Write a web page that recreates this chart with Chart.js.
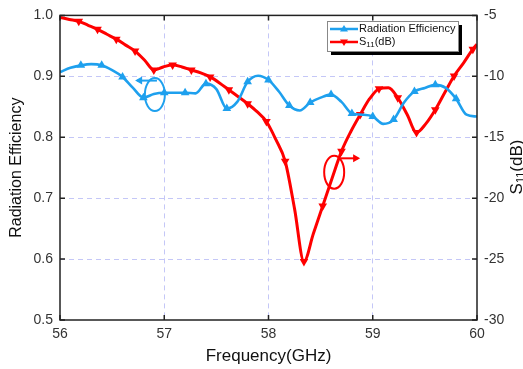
<!DOCTYPE html>
<html>
<head>
<meta charset="utf-8">
<script src="https://cdn.jsdelivr.net/npm/chart.js@4"></script>
<style>
html, body { margin: 0; padding: 0; background: #fff; }
#wrap { width: 523px; height: 369px; }
</style>
</head>
<body>
<div id="wrap"><canvas id="myChart" width="523" height="369"></canvas></div>
<script>
// radiation efficiency, read every 0.1 GHz
var effFreq = [56.0, 56.1, 56.2, 56.3, 56.4, 56.5, 56.6, 56.7, 56.8, 56.9,
  57.0, 57.1, 57.2, 57.3, 57.4, 57.5, 57.6, 57.7, 57.8, 57.9,
  58.0, 58.1, 58.2, 58.3, 58.4, 58.5, 58.6, 58.7, 58.8, 58.9,
  59.0, 59.1, 59.2, 59.3, 59.4, 59.5, 59.6, 59.7, 59.8, 59.9, 60.0];
var effValues = [0.907, 0.914, 0.918, 0.920, 0.918, 0.910, 0.899, 0.881, 0.865, 0.871,
  0.873, 0.873, 0.873, 0.872, 0.888, 0.879, 0.847, 0.858, 0.891, 0.901,
  0.894, 0.875, 0.852, 0.844, 0.857, 0.865, 0.870, 0.858, 0.839, 0.837,
  0.834, 0.822, 0.829, 0.857, 0.875, 0.881, 0.886, 0.881, 0.863, 0.837, 0.834];

// S11 in dB, read every 0.09 GHz
var s11Freq = [56.00, 56.09, 56.18, 56.27, 56.36, 56.45, 56.54, 56.63, 56.72, 56.81,
  56.90, 56.99, 57.08, 57.17, 57.26, 57.35, 57.44, 57.53, 57.62, 57.71,
  57.80, 57.89, 57.98, 58.07, 58.16, 58.25, 58.34, 58.43, 58.52, 58.61,
  58.70, 58.79, 58.88, 58.97, 59.06, 59.15, 59.24, 59.33, 59.42, 59.51,
  59.60, 59.69, 59.78, 59.87, 59.96, 60.00];
var s11Values = [-5.16, -5.33, -5.49, -5.81, -6.14, -6.55, -6.95, -7.44, -7.93, -8.66,
  -9.48, -9.23, -9.07, -9.23, -9.48, -9.72, -10.05, -10.54, -11.11, -11.68,
  -12.25, -12.90, -13.71, -15.18, -16.97, -20.88, -25.20, -22.92, -20.64, -18.36,
  -16.16, -14.53, -13.14, -11.84, -11.03, -10.94, -11.76, -13.14, -14.61, -13.88,
  -12.74, -11.35, -9.97, -8.91, -7.77, -7.36];

var xTicks = [56, 57, 58, 59, 60];
var effTicks = [0.5, 0.6, 0.7, 0.8, 0.9, 1.0];
var s11Ticks = [-30, -25, -20, -15, -10, -5];

var blue = '#1ea0ee';
var red = '#ff0000';
var gridColor = '#c4c7f7';
var font = '"Liberation Sans", Arial, sans-serif';

function pairs(xs, ys) {
  var out = [];
  for (var i = 0; i < xs.length; i++) out.push({x: xs[i], y: ys[i]});
  return out;
}

function innerGrid(ctx) {
  var t = ctx.tick;
  if (!t) return 'rgba(0,0,0,0)';
  var s = ctx.scale;
  return (t.value > s.min && t.value < s.max) ? gridColor : 'rgba(0,0,0,0)';
}

// frame, inward ticks, titles, legend and the two marker ellipses
var decor = {
  id: 'decor',
  afterDraw: function(chart) {
    var c = chart.ctx, a = chart.chartArea;
    var sx = chart.scales.x, sy = chart.scales.y, sy2 = chart.scales.y2;
    c.save();
    c.strokeStyle = '#222';
    c.lineWidth = 1.5;
    c.strokeRect(a.left, a.top, a.right - a.left, a.bottom - a.top);

    c.beginPath();
    xTicks.forEach(function(v) {
      var px = sx.getPixelForValue(v);
      c.moveTo(px, a.bottom); c.lineTo(px, a.bottom - 5);
      c.moveTo(px, a.top); c.lineTo(px, a.top + 5);
    });
    effTicks.forEach(function(v) {
      var py = sy.getPixelForValue(v);
      c.moveTo(a.left, py); c.lineTo(a.left + 5, py);
    });
    s11Ticks.forEach(function(v) {
      var py = sy2.getPixelForValue(v);
      c.moveTo(a.right, py); c.lineTo(a.right - 5, py);
    });
    c.stroke();

    // axis titles
    c.fillStyle = '#111';
    c.font = '16px ' + font;
    c.textAlign = 'center';
    c.textBaseline = 'middle';
    c.save();
    c.translate(17, (a.top + a.bottom) / 2);
    c.rotate(-Math.PI / 2);
    c.fillText('Radiation Efficiency', 0, 0);
    c.restore();

    c.font = '17px ' + font;
    c.fillText('Frequency(GHz)', (a.left + a.right) / 2, 356);

    c.save();
    c.translate(517, 167);
    c.rotate(-Math.PI / 2);
    c.font = '17px ' + font;
    c.textAlign = 'left';
    var w1 = c.measureText('S').width;
    c.font = '11px ' + font;
    var w2 = c.measureText('11').width;
    c.font = '17px ' + font;
    var w3 = c.measureText('(dB)').width;
    var x0 = -(w1 + w2 + w3) / 2;
    c.fillText('S', x0, 0);
    c.font = '11px ' + font;
    c.fillText('11', x0 + w1, 4);
    c.font = '17px ' + font;
    c.fillText('(dB)', x0 + w1 + w2, 0);
    c.restore();

    // legend with drop shadow
    var lx = 327, ly = 21, lw = 131, lh = 30;
    c.fillStyle = '#000';
    c.fillRect(lx + 4, ly + 4, lw, lh);
    c.fillStyle = '#fff';
    c.fillRect(lx, ly, lw, lh);
    c.strokeStyle = '#888';
    c.lineWidth = 1;
    c.strokeRect(lx + 0.5, ly + 0.5, lw, lh);

    function sample(y, col, down) {
      c.strokeStyle = col;
      c.lineWidth = 2.5;
      c.beginPath();
      c.moveTo(lx + 3, y); c.lineTo(lx + 31, y);
      c.stroke();
      c.fillStyle = col;
      c.beginPath();
      var mx = lx + 17, r = 4;
      if (down) {
        c.moveTo(mx - r, y - r * 0.6); c.lineTo(mx + r, y - r * 0.6); c.lineTo(mx, y + r);
      } else {
        c.moveTo(mx - r, y + r * 0.6); c.lineTo(mx + r, y + r * 0.6); c.lineTo(mx, y - r);
      }
      c.closePath();
      c.fill();
    }
    sample(ly + 8, blue, false);
    sample(ly + 21, red, true);
    c.fillStyle = '#111';
    c.textAlign = 'left';
    c.textBaseline = 'middle';
    c.font = '11px ' + font;
    c.fillText('Radiation Efficiency', lx + 32, ly + 8);
    c.fillText('S', lx + 32, ly + 21);
    var sw = c.measureText('S').width;
    c.font = '8px ' + font;
    c.fillText('11', lx + 32 + sw, ly + 24);
    var nw = c.measureText('11').width;
    c.font = '11px ' + font;
    c.fillText('(dB)', lx + 32 + sw + nw, ly + 21);

    // ellipse + arrow markers telling which axis each curve uses
    function tag(col, fx, fy, scaleY, ax0, ax1, ay) {
      var cx = sx.getPixelForValue(fx), cy = scaleY.getPixelForValue(fy);
      var x0 = sx.getPixelForValue(ax0), x1 = sx.getPixelForValue(ax1), y0 = scaleY.getPixelForValue(ay);
      c.strokeStyle = col;
      c.fillStyle = col;
      c.lineWidth = 2;
      c.beginPath();
      c.ellipse(cx, cy, 10, 16.5, 0, 0, Math.PI * 2);
      c.stroke();
      c.beginPath();
      c.moveTo(x0, y0); c.lineTo(x1, y0);
      c.stroke();
      var dir = x1 > x0 ? 1 : -1;
      c.beginPath();
      c.moveTo(x1 + dir * 2, y0);
      c.lineTo(x1 - dir * 5, y0 - 4);
      c.lineTo(x1 - dir * 5, y0 + 4);
      c.closePath();
      c.fill();
    }
    tag(blue, 56.91, 0.870, sy, 56.93, 56.74, 0.893);
    tag(red, 58.63, -17.87, sy2, 58.69, 58.86, -16.73);
    c.restore();
  }
};

var ctx = document.getElementById('myChart').getContext('2d');

new Chart(ctx, {
  type: 'line',
  data: {
    datasets: [
      {
        label: 'Radiation Efficiency',
        data: pairs(effFreq, effValues),
        yAxisID: 'y',
        borderColor: blue,
        backgroundColor: blue,
        borderWidth: 2.6,
        cubicInterpolationMode: 'monotone',
        pointStyle: 'triangle',
        pointRadius: function(c) { var i = c.dataIndex; return (i % 2 === 0 && i > 0 && i < effFreq.length - 1) ? 5 : 0; },
        pointBorderWidth: 0,
        pointHoverRadius: 0
      },
      {
        label: 'S11(dB)',
        data: pairs(s11Freq, s11Values),
        yAxisID: 'y2',
        borderColor: red,
        backgroundColor: red,
        borderWidth: 3,
        cubicInterpolationMode: 'monotone',
        pointStyle: 'triangle',
        rotation: 180,
        pointRadius: function(c) { var i = c.dataIndex; return (i % 2 === 0 && i > 0 && i < s11Freq.length - 1) ? 5 : 0; },
        pointBorderWidth: 0,
        pointHoverRadius: 0
      }
    ]
  },
  options: {
    responsive: false,
    animation: false,
    devicePixelRatio: 1,
    layout: { padding: { top: 13, right: 0, left: 0, bottom: 0 } },
    plugins: { legend: { display: false }, tooltip: { enabled: false } },
    scales: {
      x: {
        type: 'linear',
        min: 56, max: 60,
        afterFit: function(s) { s.height = 49; },
        afterBuildTicks: function(s) { s.ticks = xTicks.map(function(v) { return {value: v}; }); },
        ticks: { color: '#333', font: { family: font, size: 14 }, padding: 6, maxRotation: 0 },
        grid: { color: innerGrid, lineWidth: 1, drawTicks: false },
        border: { display: false, dash: [5, 4] }
      },
      y: {
        position: 'left',
        min: 0.5, max: 1.0,
        afterFit: function(s) { s.width = 60; },
        afterBuildTicks: function(s) { s.ticks = effTicks.map(function(v) { return {value: v}; }); },
        ticks: { color: '#333', font: { family: font, size: 14 }, padding: 7,
          callback: function(v) { return Number(v).toFixed(1); } },
        grid: { color: innerGrid, lineWidth: 1, drawTicks: false },
        border: { display: false, dash: [5, 4] }
      },
      y2: {
        position: 'right',
        min: -30, max: -5,
        afterFit: function(s) { s.width = 46; },
        afterBuildTicks: function(s) { s.ticks = s11Ticks.map(function(v) { return {value: v}; }); },
        ticks: { color: '#333', font: { family: font, size: 14 }, padding: 7 },
        grid: { display: false, drawTicks: false },
        border: { display: false }
      }
    }
  },
  plugins: [decor]
});
</script>
</body>
</html>
